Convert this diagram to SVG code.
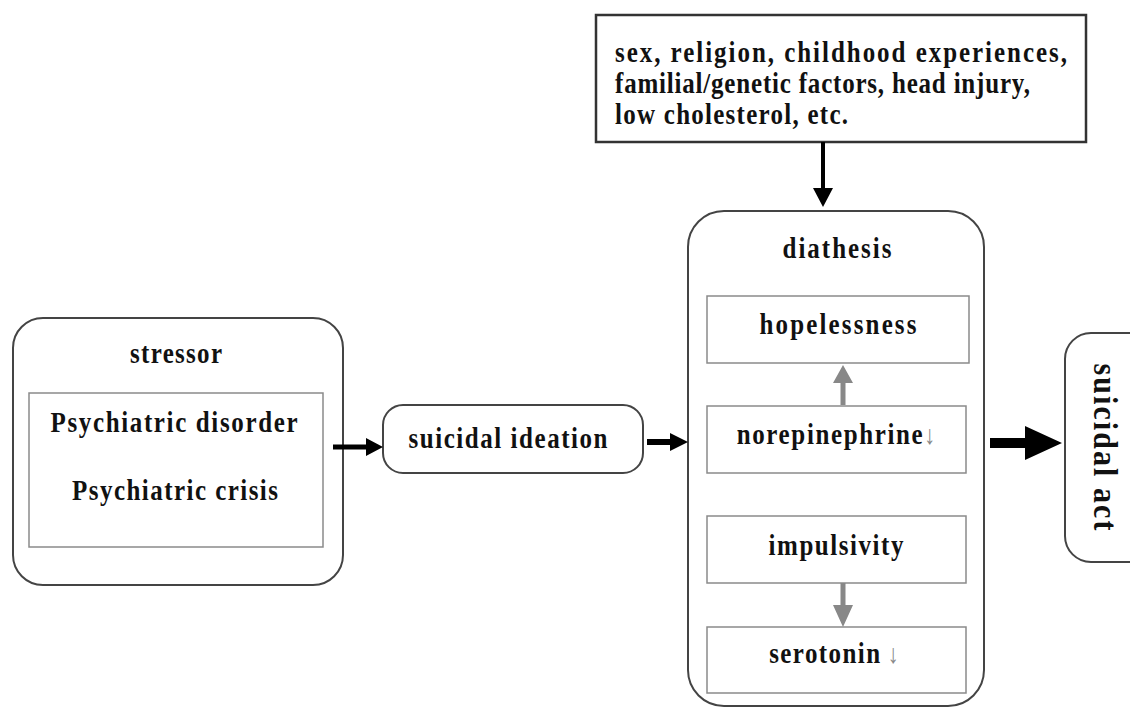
<svg xmlns="http://www.w3.org/2000/svg" width="1130" height="709" viewBox="0 0 1130 709">
<style>
text{font-family:"Liberation Serif","Times New Roman",serif;font-weight:bold;fill:#111;text-anchor:middle;font-size:25px}
.l{text-anchor:start}
.outer{fill:#fff;stroke:#444;stroke-width:2}
.inner{fill:#fff;stroke:#8a8a8a;stroke-width:1.5}
.top{fill:#fff;stroke:#333;stroke-width:2.5}
.dn{fill:#888;font-weight:normal;font-size:22px}
.blk{fill:#000}
.gry{fill:#888}
</style>
<rect width="1130" height="709" fill="#fff"/>
<g id="factors">
<rect class="top" x="596" y="15" width="490" height="127"/>
<text class="l" transform="translate(615 62) scale(1 1.22)" textLength="452">sex, religion, childhood experiences,</text>
<text class="l" transform="translate(615 93) scale(1 1.22)" textLength="415">familial/genetic factors, head injury,</text>
<text class="l" transform="translate(615 124) scale(1 1.22)" textLength="233">low cholesterol, etc.</text>
</g>
<g id="stressor">
<rect class="outer" x="13" y="318" width="330" height="267" rx="30"/>
<text transform="translate(176 363) scale(1 1.22)" textLength="92">stressor</text>
<rect class="inner" x="29" y="393" width="294" height="154"/>
<text transform="translate(174 432) scale(1 1.22)" textLength="247">Psychiatric disorder</text>
<text transform="translate(175 500) scale(1 1.22)" textLength="206">Psychiatric crisis</text>
</g>
<g id="ideation">
<rect class="outer" x="383" y="405" width="260" height="68" rx="20"/>
<text transform="translate(508 448) scale(1 1.22)" textLength="199">suicidal ideation</text>
</g>
<g id="diathesis">
<rect class="outer" x="688" y="211" width="296" height="495" rx="36"/>
<text transform="translate(837 258) scale(1 1.22)" textLength="109">diathesis</text>
<g id="hopelessness">
<rect class="inner" x="707" y="296" width="262" height="67"/>
<text transform="translate(838 334) scale(1 1.22)" textLength="157">hopelessness</text>
</g>
<g id="norepinephrine">
<rect class="inner" x="707" y="406" width="259" height="67"/>
<text transform="translate(836 444) scale(1 1.22)"><tspan textLength="186">norepinephrine</tspan><tspan class="dn">↓</tspan></text>
</g>
<g id="impulsivity">
<rect class="inner" x="707" y="516" width="259" height="67"/>
<text transform="translate(836 555) scale(1 1.22)" textLength="135">impulsivity</text>
</g>
<g id="serotonin">
<rect class="inner" x="707" y="627" width="259" height="66"/>
<text transform="translate(834 663) scale(1 1.22)"><tspan textLength="111">serotonin</tspan> <tspan class="dn">↓</tspan></text>
</g>
</g>
<g id="act">
<rect class="outer" x="1065" y="333" width="90" height="229" rx="26"/>
<text transform="translate(1094 447) rotate(90) scale(1 1.15)" style="font-size:30px" textLength="167">suicidal act</text>
</g>
<g id="connectors">
<polygon class="blk" points="821,142 825,142 825,188 833,188 823,207 813,188 821,188"/>
<polygon class="blk" points="333,444.5 366,444.5 366,438 383,447 366,456 366,449.5 333,449.5"/>
<polygon class="blk" points="647,439 670,439 670,433 688,442 670,451 670,445 647,445"/>
<polygon class="blk" points="990,438 1025,438 1025,426 1062,443 1025,460 1025,448 990,448"/>
<polygon class="gry" points="840.5,405 845.5,405 845.5,383 853,383 843,365 833,383 840.5,383"/>
<polygon class="gry" points="840.5,583 845.5,583 845.5,605 853,605 843,627 833,605 840.5,605"/>
</g>
</svg>
